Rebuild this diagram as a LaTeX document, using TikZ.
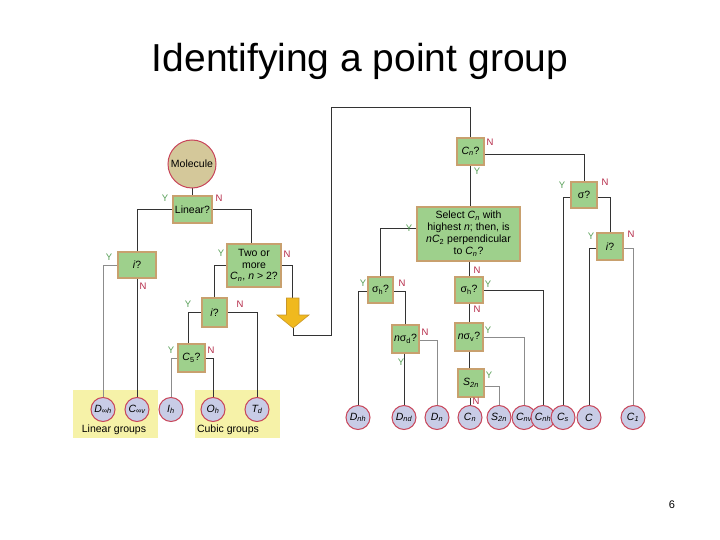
\documentclass[tikz,border=0pt]{standalone}
\usepackage{fontspec}
\setmainfont{Liberation Sans}
\usetikzlibrary{backgrounds}
\definecolor{boxg}{RGB}{158,208,140}
\definecolor{boxb}{RGB}{200,160,110}
\definecolor{circf}{RGB}{200,204,230}
\definecolor{circb}{RGB}{200,70,90}
\definecolor{molf}{RGB}{212,200,154}
\definecolor{yc}{RGB}{90,160,90}
\definecolor{nc}{RGB}{180,40,70}
\definecolor{panel}{RGB}{246,242,168}
\definecolor{arrf}{RGB}{240,185,30}
\definecolor{arrd}{RGB}{200,150,40}
\newcommand\sbs[1]{\textsubscript{#1}}
\tikzset{
 qbox/.style={draw=boxb, fill=boxg, line width=1.2pt, inner sep=0pt, align=center, font=\fontsize{10.5}{11.5}\selectfont},
 grp/.style={circle, draw=circb, fill=circf, line width=1pt, minimum size=24pt, inner sep=0pt, font=\fontsize{10.5}{11}\selectfont\itshape},
 ylab/.style={text=yc, font=\fontsize{9.5}{10}\selectfont, inner sep=0pt},
 nlab/.style={text=nc, font=\fontsize{9.5}{10}\selectfont, inner sep=0pt},
 wire/.style={draw=black!80, line width=1pt},
 gwire/.style={draw=black!45, line width=1pt},
 paneltext/.style={font=\fontsize{10.5}{11}\selectfont, inner sep=0pt},
}
\begin{document}
\begin{tikzpicture}[x=1pt,y=-1pt]
\useasboundingbox (0,0) rectangle (720,540);
\node[font=\fontsize{39}{42}\selectfont] (title) at (360,61) {Identifying a point group};
\node[font=\fontsize{11}{12}\selectfont] (page) at (672,505) {6};

% question boxes
\node[circle, draw=circb, fill=molf, line width=1pt, minimum size=48pt, inner sep=0pt, font=\fontsize{10.5}{11}\selectfont] (mol) at (192,164) {Molecule};
\node[qbox, minimum width=39pt, minimum height=27pt] (lin) at (192.5,209.5) {Linear?};
\node[qbox, minimum width=38pt, minimum height=26pt] (iL) at (137,265) {\textit{i}?};
\node[qbox, minimum width=54pt, minimum height=43pt] (two) at (254,265.5) {Two or\\more\\\textit{C}\sbs{\textit{n}}, \textit{n} > 2?};
\node[qbox, minimum width=25pt, minimum height=29pt] (i2) at (214.5,312.5) {\textit{i}?};
\node[qbox, minimum width=27pt, minimum height=28pt] (c5) at (191.5,358) {\textit{C}\sbs{5}?};
\node[qbox, minimum width=27pt, minimum height=27pt] (cn) at (470.5,151.5) {\textit{C\sbs{n}}?};
\node[qbox, minimum width=103pt, minimum height=54pt, font=\fontsize{10.5}{12}\selectfont] (sel) at (468.5,234) {Select \textit{C}\sbs{\textit{n}} with\\highest \textit{n}; then, is\\\textit{nC}\sbs{2} perpendicular\\to \textit{C}\sbs{\textit{n}}?};
\node[qbox, minimum width=25pt, minimum height=26pt] (sh1) at (380.5,290) {σ\sbs{h}?};
\node[qbox, minimum width=27pt, minimum height=28pt] (nsd) at (405.5,339) {\textit{n}σ\sbs{d}?};
\node[qbox, minimum width=28pt, minimum height=26pt] (sh2) at (469,290) {σ\sbs{h}?};
\node[qbox, minimum width=28pt, minimum height=28pt] (nsv) at (469,337) {\textit{n}σ\sbs{v}?};
\node[qbox, minimum width=26pt, minimum height=28pt] (s2n) at (471,383) {\textit{S}\sbs{\textit{2n}}};
\node[qbox, minimum width=26pt, minimum height=26pt] (sig) at (584,195) {σ?};
\node[qbox, minimum width=26pt, minimum height=27pt] (i3) at (610,246.5) {\textit{i}?};

% group circles
\node[grp] (Dinfh) at (103,409.5) {D\sbs{∞h}};
\node[grp] (Cinfv) at (137,409.5) {C\sbs{∞v}};
\node[grp] (Ih) at (171,409.5) {I\sbs{h}};
\node[grp] (Oh) at (213,409.5) {O\sbs{h}};
\node[grp] (Td) at (257,409.5) {T\sbs{d}};
\node[grp] (Dnh) at (358,417.5) {D\sbs{nh}};
\node[grp] (Dnd) at (404,417.5) {D\sbs{nd}};
\node[grp] (Dn) at (437,417.5) {D\sbs{n}};
\node[grp] (Cn) at (470,417.5) {C\sbs{n}};
\node[grp] (S2n) at (499,417.5) {S\sbs{2n}};
\node[grp] (Cnv) at (524,417.5) {C\sbs{nv}};
\node[grp] (Cnh) at (543,417.5) {C\sbs{nh}};
\node[grp] (Cs) at (563,417.5) {C\sbs{s}};
\node[grp] (Ci) at (589,417.5) {C};
\node[grp] (C1) at (633,417.5) {C\sbs{1}};

% arrow
\coordinate (arrtop) at (292.5,298);
\coordinate (arrtip) at (293,328);
\draw[fill=arrf, draw=arrd, line width=0.6pt] (286.5,298) -- (299,298) -- (299,315) -- (309,315) -- (arrtip) -- (277,315) -- (286.5,315) -- cycle;

% Y/N labels
\node[ylab] (y1) at (165,198) {Y};   \node[nlab] (n1) at (219,198) {N};
\node[ylab] (y2) at (109,257) {Y};   \node[nlab] (n2) at (143,286) {N};
\node[ylab] (y3) at (221,253) {Y};   \node[nlab] (n3) at (287,254) {N};
\node[ylab] (y4) at (188,304) {Y};   \node[nlab] (n4) at (240,304) {N};
\node[ylab] (y5) at (171,350) {Y};   \node[nlab] (n5) at (211,350) {N};
\node[nlab] (n6) at (490,142) {N};   \node[ylab] (y6) at (477,171) {Y};
\node[ylab] (y7) at (409,228) {Y};   \node[nlab] (n7) at (477,270) {N};
\node[ylab] (y8) at (363,283) {Y};   \node[nlab] (n8) at (402,283) {N};
\node[ylab] (y9) at (488,284) {Y};   \node[nlab] (n9) at (477,309) {N};
\node[nlab] (n10) at (425,332) {N};  \node[ylab] (y10) at (401,362) {Y};
\node[ylab] (y11) at (488,330) {Y};
\node[ylab] (y12) at (489,375) {Y};  \node[nlab] (n12) at (476,401) {N};
\node[ylab] (y13) at (562,185) {Y};  \node[nlab] (n13) at (605,182) {N};
\node[ylab] (y14) at (591,236) {Y};  \node[nlab] (n14) at (631,234) {N};

\begin{scope}[on background layer]
\fill[panel] (73,390) rectangle (158,438);
\fill[panel] (195,390) rectangle (280,438);
\node[paneltext] (lg) at (114,430) {Linear groups};
\node[paneltext] (cg) at (228,430) {Cubic groups};

\draw[wire] (mol.south) -- (mol.south |- lin.north);
\draw[wire] (lin.west) -| (iL.north);
\draw[wire] ([xshift=-3pt]lin.east) -| ([xshift=-3pt]two.north);
\draw[gwire] (iL.west) -| (Dinfh.north);
\draw[wire] (iL.south) -- (Cinfv.north);
\draw[wire] (two.west) -| (i2.north);
\draw[wire] (two.east) -| (arrtop);
\draw[wire] ([yshift=0.5pt]i2.west) -| ([xshift=-3pt]c5.north);
\draw[wire] ([yshift=0.5pt]i2.east) -| (Td.north);
\draw[gwire] (c5.west) -| (Ih.north);
\draw[wire] (c5.east) -| (Oh.north);
\draw[wire] (arrtip) -- (293,335) -- (331,335) -- (331,108) -- (cn.north |- 0,108) -- (cn.north);
\draw[wire] ([yshift=-3.5pt]cn.east) -| (sig.north);
\draw[wire] (cn.south) -- (cn.south |- sel.north);
\draw[wire] ([yshift=5pt]sel.west) -| (sh1.north);
\draw[wire] (sh2.north |- sel.south) -- (sh2.north);
\draw[wire] ([yshift=-1pt]sh1.west) -| (Dnh.north);
\draw[wire] ([yshift=-1pt]sh1.east) -| (nsd.north);
\draw[wire] (Dnd.north |- nsd.south) -- (Dnd.north);
\draw[gwire] ([yshift=-1pt]nsd.east) -| (Dn.north);
\draw[wire] (sh2.east) -| (Cnh.north);
\draw[wire] (sh2.south) -- (nsv.north);
\draw[gwire] (nsv.east) -| (Cnv.north);
\draw[wire] (nsv.south) -- (nsv.south |- s2n.north);
\draw[gwire] ([yshift=-3pt]s2n.east) -| (S2n.north);
\draw[wire] (Cn.north |- s2n.south) -- (Cn.north);
\draw[wire] ([yshift=-3pt]sig.west) -| (Cs.north);
\draw[wire] ([yshift=-3pt]sig.east) -| (i3.north);
\draw[wire] ([yshift=-1.5pt]i3.west) -| (Ci.north);
\draw[gwire] ([yshift=-1.5pt]i3.east) -| (C1.north);
\end{scope}
\end{tikzpicture}
\end{document}
